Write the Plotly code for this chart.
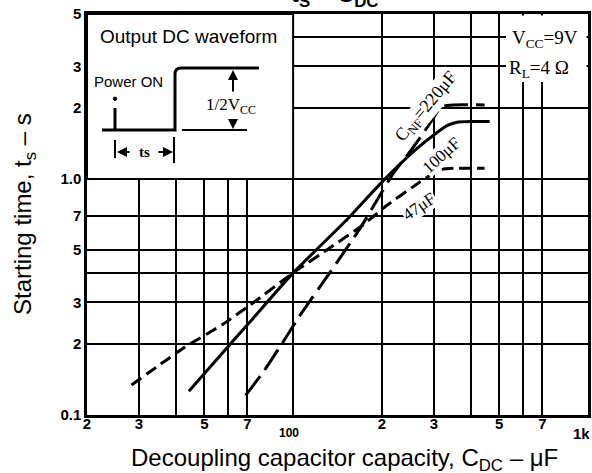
import math
import plotly.graph_objects as go

# ---------------- data ----------------
cdc_47 = [28.3, 35, 43, 58, 73, 100, 133, 173, 207, 269, 300, 320, 350, 446]
ts_47 = [0.134, 0.162, 0.194, 0.243, 0.298, 0.40, 0.51, 0.64, 0.77, 0.97, 1.06, 1.10, 1.11, 1.11]

cdc_100 = [44.3, 60, 73, 100, 150, 200, 262, 307, 335, 360, 400, 464]
ts_100 = [0.126, 0.194, 0.256, 0.40, 0.66, 0.97, 1.34, 1.57, 1.69, 1.74, 1.75, 1.75]

cdc_220 = [69, 80, 95, 105, 133, 169, 200, 218, 245, 270, 298, 312, 325, 350, 446]
ts_220 = [0.121, 0.155, 0.215, 0.262, 0.40, 0.62, 0.88, 1.05, 1.27, 1.5, 1.8, 1.97, 2.04, 2.06, 2.06]

x_tickvals = [20, 30, 40, 50, 60, 70, 100, 200, 300, 400, 500, 600, 700, 1000]
x_ticktext = ["2", "3", " ", "5", " ", "7", " ", "2", "3", " ", "5", " ", "7", " "]
x_bigticks = [100, 1000]
x_bigtext = ["100", "1k"]

y_tickvals = [0.1, 0.2, 0.3, 0.4, 0.5, 0.7, 1, 2, 3, 4, 5]
y_ticktext = ["0.1", "2", "3", " ", "5", "7", "1.0", "2", "3", " ", "5"]

# ---------------- layout geometry ----------------
W, H = 592, 473
L, R, T, B = 87, 4, 14, 58
PW, PH = W - L - R, H - T - B


def PX(px):
    return (px - L) / PW


def PY(py):
    return (H - B - py) / PH


BLACK = "#000000"
SANS = "Liberation Sans, Arial, sans-serif"
SERIF = "Liberation Serif, Times New Roman, serif"

fig = go.Figure()

fig.add_trace(go.Scatter(x=cdc_47, y=ts_47, mode="lines", name="47μF",
                         line=dict(color=BLACK, width=3, dash="12px,6px", shape="spline", smoothing=0.5)))
fig.add_trace(go.Scatter(x=cdc_100, y=ts_100, mode="lines", name="100μF",
                         line=dict(color=BLACK, width=3, shape="spline", smoothing=0.5)))
fig.add_trace(go.Scatter(x=cdc_220, y=ts_220, mode="lines", name="220μF",
                         line=dict(color=BLACK, width=3, dash="24px,8px", shape="spline", smoothing=0.5)))

shapes = []
# white inset area (upper-left block: 20..100 µF, 1..5 s)
inset_x1 = (math.log10(100) - math.log10(20)) / (3 - math.log10(20))
inset_y0 = (0 - (-1)) / (math.log10(5) + 1)
shapes.append(dict(type="rect", xref="paper", yref="paper", x0=0, x1=inset_x1, y0=inset_y0, y1=1,
                   fillcolor="white", line=dict(color=BLACK, width=2), layer="above"))
# white box behind the Vcc / RL labels
shapes.append(dict(type="rect", xref="paper", yref="paper", x0=PX(506), x1=PX(586.5), y0=PY(82), y1=PY(15.5),
                   fillcolor="white", line=dict(width=0), layer="above"))

# inset waveform drawing
wave = "M {a},{b} L {c},{b} L {c},{d} Q {c},{e} {f},{e} L {g},{e}".format(
    a=PX(102), b=PY(130), c=PX(175), d=PY(74), e=PY(68), f=PX(181), g=PX(259))
shapes.append(dict(type="path", xref="paper", yref="paper", path=wave,
                   line=dict(color=BLACK, width=3), layer="above"))
# power-on marker
shapes.append(dict(type="line", xref="paper", yref="paper", x0=PX(115), x1=PX(115), y0=PY(108), y1=PY(130),
                   line=dict(color=BLACK, width=3), layer="above"))
shapes.append(dict(type="circle", xref="paper", yref="paper", x0=PX(113.3), x1=PX(116.7), y0=PY(97), y1=PY(100.5),
                   fillcolor=BLACK, line=dict(color=BLACK, width=1), layer="above"))
# reference base line for 1/2 Vcc
shapes.append(dict(type="line", xref="paper", yref="paper", x0=PX(182), x1=PX(247), y0=PY(130), y1=PY(130),
                   line=dict(color=BLACK, width=2), layer="above"))
# ts dimension ticks
shapes.append(dict(type="line", xref="paper", yref="paper", x0=PX(115), x1=PX(115), y0=PY(140), y1=PY(158),
                   line=dict(color=BLACK, width=2), layer="above"))
shapes.append(dict(type="line", xref="paper", yref="paper", x0=PX(174), x1=PX(174), y0=PY(137), y1=PY(163),
                   line=dict(color=BLACK, width=2), layer="above"))

annotations = []


def arrow(hx, hy, tx, ty):
    annotations.append(dict(xref="paper", yref="paper", x=PX(hx), y=PY(hy), ax=tx - hx, ay=ty - hy,
                            text="", showarrow=True, arrowhead=2, arrowsize=1, arrowwidth=2,
                            arrowcolor=BLACK, standoff=0, startstandoff=0))


arrow(117, 152, 131, 152)
arrow(173, 152, 157, 152)
arrow(233, 70, 233, 93)
arrow(233, 129, 233, 119)


def text(px, py, s, size, family=SANS, angle=0, bg=None, xanchor="center", yanchor="middle"):
    d = dict(xref="paper", yref="paper", x=PX(px), y=PY(py), text=s, showarrow=False,
             font=dict(family=family, size=size, color=BLACK), textangle=angle,
             xanchor=xanchor, yanchor=yanchor, borderpad=0)
    if bg:
        d["bgcolor"] = bg
    annotations.append(d)


text(188, 36, "Output DC waveform", 19)
text(128, 81, "Power ON", 15)
text(231, 106, "1/2V<sub>CC</sub>", 17, family=SERIF)
text(144, 152, "<b>ts</b>", 15, family=SERIF)

text(545, 39, "V<sub>CC</sub>=9V", 19, family=SERIF)
text(539, 69, "R<sub>L</sub>=4 Ω", 19, family=SERIF)

text(426, 107, "C<sub>NF</sub>=220μF", 18, family=SERIF, angle=-50, bg="white")
text(441, 155, "100μF", 17, family=SERIF, angle=-42, bg="white")
text(419, 206, "47μF", 17, family=SERIF, angle=-34, bg="white")

# axis titles
text(24, 214, "Starting time, t<sub>s</sub> – s", 24, angle=-90)
text(344, 459, "Decoupling capacitor capacity, C<sub>DC</sub> – μF", 24)
# chart title (cut off at the top edge, as in the scan)
text(334, 12, "<b>t<sub>S</sub> – C<sub>DC</sub></b>", 24, yanchor="bottom")

# lower x labels (100 and 1k)
for v, s, sz, xs in zip(x_bigticks, x_bigtext, [12, 15], [-4, -7]):
    annotations.append(dict(xref="x", yref="paper", x=math.log10(v), y=PY(433), text="<b>" + s + "</b>",
                            showarrow=False, xshift=xs, yanchor="middle", xanchor="center",
                            font=dict(family=SANS, size=sz, color=BLACK)))

fig.update_layout(
    width=W, height=H,
    autosize=False,
    margin=dict(l=L, r=R, t=T, b=B, pad=0, autoexpand=False),
    paper_bgcolor="white", plot_bgcolor="white",
    showlegend=False,
    shapes=shapes,
    annotations=annotations,
    xaxis=dict(type="log", range=[math.log10(20), 3], tickvals=x_tickvals,
               ticktext=["<b>" + t + "</b>" for t in x_ticktext], ticks="", automargin=False,
               ticklabelstandoff=-7,
               showgrid=True, gridcolor=BLACK, gridwidth=1.8,
               showline=True, linecolor=BLACK, linewidth=2.5, mirror=True, zeroline=False,
               tickfont=dict(family=SANS, size=15, color=BLACK)),
    yaxis=dict(type="log", range=[-1, math.log10(5)], tickvals=y_tickvals,
               ticktext=["<b>" + t + "</b>" for t in y_ticktext], ticks="", automargin=False,
               showgrid=True, gridcolor=BLACK, gridwidth=1.8,
               showline=True, linecolor=BLACK, linewidth=2.5, mirror=True, zeroline=False,
               tickfont=dict(family=SANS, size=15, color=BLACK)),
)

fig.write_html("out.html", config={"responsive": False, "displayModeBar": False},
               post_script="document.body.style.margin='0px';document.body.style.overflow='hidden';")
